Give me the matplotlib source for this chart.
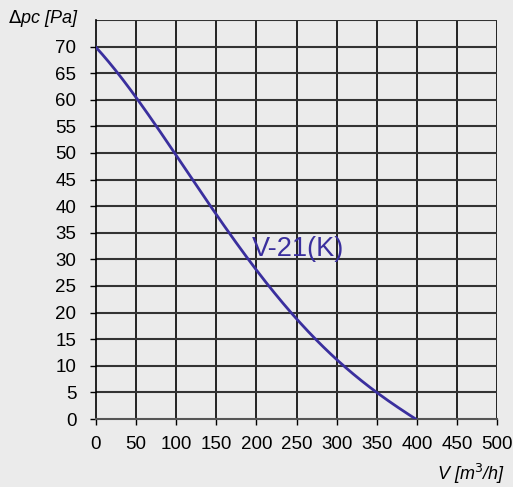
import matplotlib.pyplot as plt
import numpy as np

plt.rcParams['font.family'] = ['Liberation Sans', 'DejaVu Sans']

# fan curve V-21(K)
flow = [0, 50, 100, 150, 200, 250, 300, 350, 398]
pressure = [70, 60, 50, 38.5, 27.8, 18.8, 11.2, 5.1, 0]
x_ticks = [0, 50, 100, 150, 200, 250, 300, 350, 400, 450, 500]
y_ticks = [0, 5, 10, 15, 20, 25, 30, 35, 40, 45, 50, 55, 60, 65, 70]

bg = '#ebebeb'
curve_color = '#3a2f9e'

fig = plt.figure(figsize=(5.13, 4.87), dpi=100, facecolor=bg)
ax = fig.add_axes([0.187, 0.1396, 0.782, 0.8194], facecolor=bg)

# smooth curve through the read points
coef = np.polyfit(flow, pressure, 4)
xs = np.linspace(flow[0], flow[-1], 300)
ax.plot(xs, np.polyval(coef, xs), color=curve_color, lw=2, zorder=3)

ax.text(252, 32, 'V-21(K)', color=curve_color, fontsize=19.5,
        ha='center', va='center', zorder=4)

ax.set_xlim(0, 500)
ax.set_ylim(0, 75)
ax.set_xticks(x_ticks)
ax.set_yticks(y_ticks)
ax.tick_params(labelsize=13.5, length=4, width=1, colors='black')
ax.tick_params(axis='y', pad=10)
ax.tick_params(axis='x', pad=8)

for v in x_ticks[1:]:
    ax.axvline(v, color='black', lw=1.2, zorder=1)
for v in y_ticks[1:] + [75]:
    ax.axhline(v, color='#333333', lw=1.5, zorder=1)

for side in ['top', 'right']:
    ax.spines[side].set_visible(False)
ax.spines['left'].set_color('black')
ax.spines['left'].set_linewidth(1.2)
ax.spines['bottom'].set_color('#555555')
ax.spines['bottom'].set_linewidth(1.5)

fig.text(0.016, 0.962, r'$\Delta$pc [Pa]', fontsize=13, style='italic',
         ha='left', va='center')
fig.text(0.985, 0.027, 'V [m$^3$/h]', fontsize=13, style='italic',
         ha='right', va='center')

plt.savefig('out.png', dpi=100, facecolor=bg)
